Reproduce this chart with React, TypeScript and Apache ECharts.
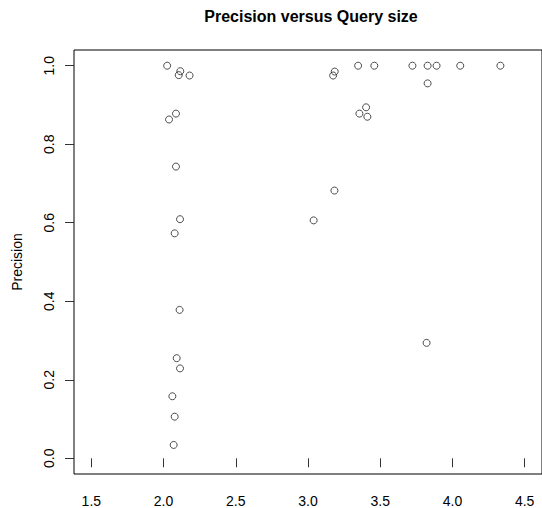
import React, { useEffect, useRef } from "react";
import * as echarts from "echarts";

const querySize: number[] = [
  2.025, 2.116, 2.105, 2.18, 2.086, 2.038, 2.086, 2.114, 2.077, 2.111, 2.091, 2.114, 2.061, 2.077, 2.07,
  3.185, 3.174, 3.347, 3.459, 3.723, 3.828, 3.89, 4.054, 4.332, 3.828, 3.402, 3.356, 3.411, 3.183, 3.039, 3.821,
];
const precision: number[] = [
  1.0, 0.986, 0.976, 0.975, 0.878, 0.863, 0.743, 0.609, 0.573, 0.378, 0.255, 0.229, 0.158, 0.106, 0.034,
  0.985, 0.975, 1.0, 1.0, 1.0, 1.0, 1.0, 1.0, 1.0, 0.955, 0.894, 0.878, 0.87, 0.682, 0.606, 0.294,
];
const xTicks: number[] = [1.5, 2.0, 2.5, 3.0, 3.5, 4.0, 4.5];
const yTicks: number[] = [0, 0.2, 0.4, 0.6, 0.8, 1.0];

const FONT = "Liberation Sans, Arial, sans-serif";

export default function App() {
  const ref = useRef<HTMLDivElement>(null);
  useEffect(() => {
    if (!ref.current) return;
    const chart = echarts.init(ref.current, undefined, { renderer: "svg" });
    const points = querySize.map((x, i) => [x, precision[i]]);
    chart.setOption({
      animation: false,
      backgroundColor: "#fff",
      title: {
        text: "Precision versus Query size",
        left: 311,
        top: 8,
        padding: 0,
        textAlign: "center",
        textStyle: { fontFamily: FONT, fontSize: 16, fontWeight: "bold", color: "#000" },
      },
      grid: {
        left: 74,
        right: -6,
        top: 50,
        bottom: 33,
        show: true,
        borderColor: "#000",
        borderWidth: 1,
        backgroundColor: "transparent",
      },
      xAxis: {
        type: "value",
        min: 1.38,
        max: 4.62,
        splitLine: { show: false },
        axisLine: { show: false },
        axisTick: { show: true, inside: false, length: 9, customValues: xTicks, lineStyle: { color: "#333" } },
        axisLabel: {
          customValues: xTicks,
          margin: 20,
          fontFamily: FONT,
          fontSize: 14,
          color: "#000",
          formatter: (v: number) => v.toFixed(1),
        },
      },
      yAxis: {
        type: "value",
        min: -0.04,
        max: 1.04,
        name: "Precision",
        nameLocation: "middle",
        nameRotate: 90,
        nameGap: 50,
        nameTextStyle: { fontFamily: FONT, fontSize: 14, color: "#000" },
        splitLine: { show: false },
        axisLine: { show: false },
        axisTick: { show: true, inside: false, length: 9, customValues: yTicks, lineStyle: { color: "#333" } },
        axisLabel: {
          customValues: yTicks,
          rotate: 90,
          margin: 18,
          fontFamily: FONT,
          fontSize: 14,
          color: "#000",
          formatter: (v: number) => v.toFixed(1),
        },
      },
      series: [
        {
          type: "scatter",
          data: points,
          symbol: "circle",
          symbolSize: 7,
          itemStyle: { color: "rgba(0,0,0,0)", borderColor: "#222", borderWidth: 1 },
          emphasis: { disabled: true },
        },
      ],
    });
    return () => chart.dispose();
  }, []);
  return (
    <div
      ref={ref}
      style={{ position: "absolute", left: 0, top: 0, width: 542, height: 508 }}
    />
  );
}
